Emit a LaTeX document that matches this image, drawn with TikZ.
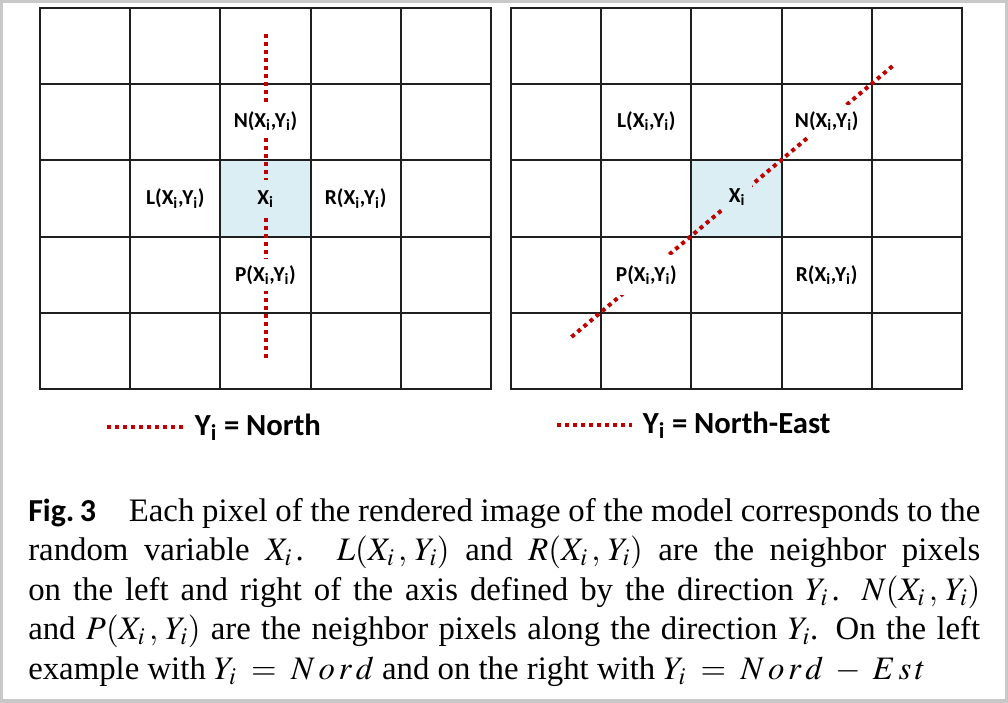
\documentclass[tikz,border=0pt]{standalone}
\usepackage{mathptmx}
\usepackage[no-math]{fontspec}
\setmainfont{Liberation Serif}
\newfontfamily\labelfont{Carlito}
\definecolor{dotred}{HTML}{C00000}
\definecolor{cellblue}{HTML}{DAEEF3}
\definecolor{framegray}{HTML}{C8C8C8}
\newcommand\lsub{\textsubscript{i}}
\newcommand\pxy[1]{#1(X_i\,,\,Y_i)}
\newcommand\nord{N\mkern2mu o\mkern2mu r\mkern2mu d}
\newcommand\wideq{\mathrel{\mkern4mu=\mkern4mu}}
\tikzset{
  cell/.style={draw=black!88, line width=1.5pt, line cap=rect},
  axis/.style={dotred, line width=3pt, dash pattern=on 3pt off 3pt},
  lab/.style={font=\labelfont\bfseries\fontsize{16}{19}\selectfont, fill=white, inner xsep=2pt, inner ysep=5pt},
  legend/.style={font=\labelfont\bfseries\fontsize{23}{27}\selectfont, anchor=west, inner xsep=8pt, inner ysep=0pt},
  caption/.style={font=\fontsize{24.6}{29.6}\selectfont, align=justify, inner sep=0pt, text width=714pt},
}
\begin{document}
\begin{tikzpicture}[x=0.75pt, y=-0.75pt]
  \useasboundingbox (0,0) rectangle (1008,703);
  % frame
  \fill[framegray] (0,0) rectangle (1008,703);
  \fill[white] (3,3) rectangle (1005,699);
  % grids
  \foreach \gx in {40,511} {
    \fill[cellblue] (\gx+180.4,160.4) rectangle (\gx+270.6,236.6);
    \foreach \k in {0,...,5} {
      \draw[cell] (\gx+\k*90.2,8) -- (\gx+\k*90.2,389);
      \draw[cell] (\gx,8+\k*76.2) -- (\gx+451,8+\k*76.2);
    }
  }
  % directions
  \coordinate (nTop) at (265.5,31);
  \coordinate (nBot) at (265.5,358);
  \coordinate (neTop) at (895,64);
  \coordinate (neBot) at (571.5,337);
  \draw[axis] (nBot) -- (nTop);
  \draw[axis] (neBot) -- (neTop);
  % left labels
  \node[lab] (nN) at (265.5,121) {N(X\lsub,Y\lsub)};
  \node[lab] (nL) at (175.3,198.5) {L(X\lsub,Y\lsub)};
  \node[lab, fill=cellblue, inner ysep=8pt] (nX) at (265.5,199) {X\lsub};
  \node[lab] (nR) at (355.7,198.5) {R(X\lsub,Y\lsub)};
  \node[lab] (nP) at (265.5,275) {P(X\lsub,Y\lsub)};
  % right labels
  \node[lab] (eL) at (646.3,121) {L(X\lsub,Y\lsub)};
  \node[lab] (eN) at (826.7,121) {N(X\lsub,Y\lsub)};
  \node[lab, fill=cellblue, inner xsep=5pt] (eX) at (737,197) {X\lsub};
  \node[lab, inner ysep=8pt] (eP) at (646.3,275) {P(X\lsub,Y\lsub)};
  \node[lab] (eR) at (826.7,275) {R(X\lsub,Y\lsub)};
  % legend
  \node[legend] (legN) at (184,427) {Y\lsub{} = North};
  \coordinate (legNa) at (107,427);
  \draw[axis] (legNa) -- (legN.west);
  \node[legend] (legNE) at (632,425) {Y\lsub{} = North-East};
  \coordinate (legNEa) at (557,425);
  \draw[axis] (legNEa) -- (legNE.west);
  % caption
  \node[caption, anchor=north west] (cap) at (28,498) {{\labelfont\bfseries\fontsize{24}{29.6}\selectfont Fig.\,3}\quad Each pixel of the rendered image of the model corresponds to the\linebreak random variable $X_i\,$. $\pxy{L}$ and $\pxy{R}$ are the neighbor pixels\linebreak on the left and right of the axis defined by the direction $Y_i\,$. $\pxy{N}$\linebreak and $\pxy{P}$ are the neighbor pixels along the direction $Y_i$. On the left\linebreak example with $Y_i\wideq\nord$ and on the right with $Y_i\wideq\nord\mkern4mu-\mkern4mu E\mkern2mu s\mkern2mu t$};
\end{tikzpicture}
\end{document}
